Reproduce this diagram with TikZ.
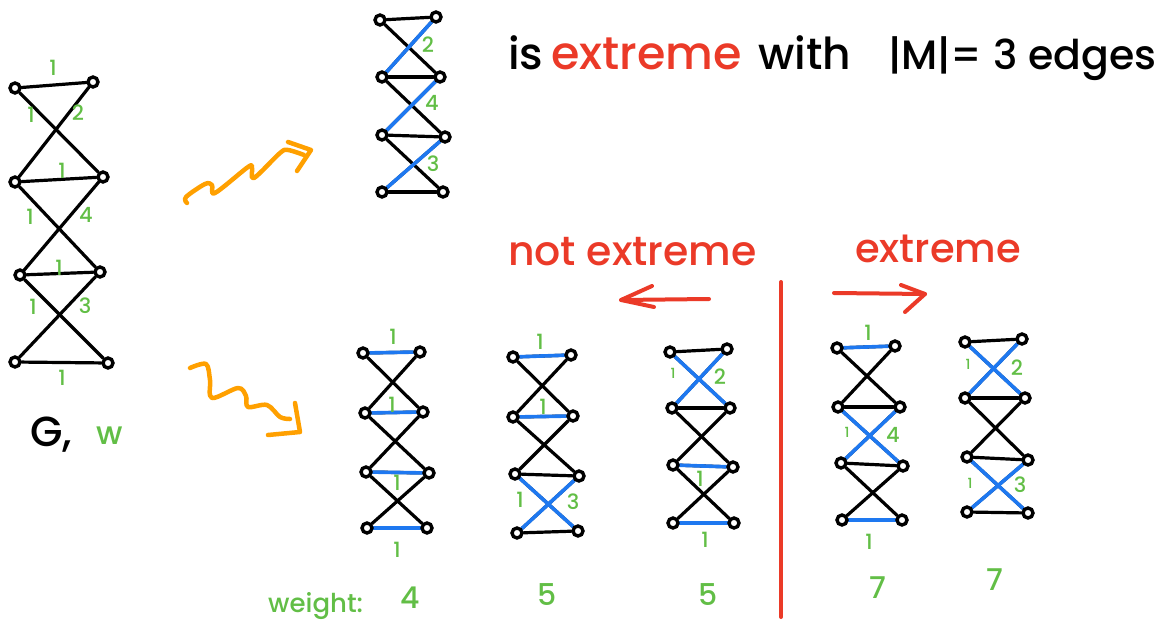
\documentclass[tikz,border=0pt]{standalone}
\usepackage{fontspec}
\setmainfont{Poppins}
\newfontfamily\medf{Poppins Medium}
\usetikzlibrary{arrows.meta,backgrounds}
\definecolor{hblue}{RGB}{30,120,240}
\definecolor{hgreen}{RGB}{98,190,70}
\definecolor{horange}{RGB}{255,160,0}
\definecolor{hred}{RGB}{235,58,40}
\tikzset{
 vtx/.style={circle,draw=black,fill=white,line width=3.4pt,inner sep=0pt,minimum size=10pt},
 edge/.style={line width=3.2pt,black,line cap=round},
 bedge/.style={line width=3.6pt,hblue,line cap=round},
 wlab/.style={text=hgreen,font=\medf\fontsize{21}{21}\selectfont,inner sep=0pt},
 slab/.style={text=hgreen,font=\medf\fontsize{14}{14}\selectfont,inner sep=0pt},
 squig/.style={horange,line width=4.5pt,line cap=round,line join=round},
 redarr/.style={hred,line width=4pt,line cap=round,line join=round},
 txt/.style={inner sep=0pt,anchor=base west},
}
\newcommand\mkgraph[9]{%
 \node[vtx] (#11l) at (#2) {};
 \node[vtx] (#11r) at (#3) {};
 \node[vtx] (#12l) at (#4) {};
 \node[vtx] (#12r) at (#5) {};
 \node[vtx] (#13l) at (#6) {};
 \node[vtx] (#13r) at (#7) {};
 \node[vtx] (#14l) at (#8) {};
 \node[vtx] (#14r) at (#9) {};
}
\newcommand\gedges[1]{%
 \foreach \i/\j in {1/2,2/3,3/4}{\draw[edge] (#1\i l)--(#1\j r); \draw[edge] (#1\i r)--(#1\j l);}
 \foreach \i in {1,2,3,4}{\draw[edge] (#1\i l)--(#1\i r);}
}
\begin{document}
\begin{tikzpicture}[x=1pt,y=-1pt]
\useasboundingbox (0,0) rectangle (1172,631);
% graphs
\mkgraph{G}{15,88}{93,82}{15,182}{103,177}{20,275}{100,272}{15,362}{108,363}
\mkgraph{T}{380,20}{436,17}{382,77}{440,77}{382,135}{445,137}{382,192}{443,192}
\mkgraph{A}{363,353}{420,352}{365,413}{423,412}{366,472}{429,473}{367,528}{427,528}
\mkgraph{B}{513,357}{571,355}{513,417}{573,416}{515,474}{579,476}{517,533}{578,531}
\mkgraph{C}{670,352}{727,349}{672,408}{730,408}{673,465}{733,467}{673,523}{734,523}
\mkgraph{D}{837,348}{895,346}{838,407}{900,407}{841,463}{903,466}{842,520}{902,520}
\mkgraph{E}{965,342}{1022,339}{965,398}{1025,398}{967,457}{1028,460}{967,512}{1028,513}
\begin{pgfonlayer}{background}
\gedges{G}\gedges{T}\gedges{A}\gedges{B}\gedges{C}\gedges{D}\gedges{E}
% blue matchings
\draw[bedge] (T2l)--(T1r); \draw[bedge] (T3l)--(T2r); \draw[bedge] (T4l)--(T3r);
\foreach \i in {1,2,3,4}{\draw[bedge] (A\i l)--(A\i r);}
\draw[bedge] (B1l)--(B1r); \draw[bedge] (B2l)--(B2r); \draw[bedge] (B3l)--(B4r); \draw[bedge] (B3r)--(B4l);
\draw[bedge] (C1l)--(C2r); \draw[bedge] (C1r)--(C2l); \draw[bedge] (C3l)--(C3r); \draw[bedge] (C4l)--(C4r);
\draw[bedge] (D1l)--(D1r); \draw[bedge] (D2l)--(D3r); \draw[bedge] (D2r)--(D3l); \draw[bedge] (D4l)--(D4r);
\draw[bedge] (E1l)--(E2r); \draw[bedge] (E1r)--(E2l); \draw[bedge] (E3l)--(E4r); \draw[bedge] (E3r)--(E4l);
\end{pgfonlayer}
% weights G
\node[wlab] (g1) at (53,68) {1};
\node[wlab] (g2) at (31,115) {1};
\node[wlab] (g3) at (78,113) {2};
\node[wlab] (g4) at (62,171) {1};
\node[wlab] (g5) at (30,217) {1};
\node[wlab] (g6) at (86,215) {4};
\node[wlab] (g7) at (59,268) {1};
\node[wlab] (g8) at (33,307) {1};
\node[wlab] (g9) at (85,306) {3};
\node[wlab] (g10) at (62,378) {1};
\node[txt,font=\medf\fontsize{42}{42}\selectfont] (Gn) at (30,446) {G,};
\node[txt,text=hgreen,font=\medf\fontsize{32}{32}\selectfont] (Gw) at (96,444) {w};
% weights T
\node[wlab] (t1) at (428,45) {2};
\node[wlab] (t2) at (432,103) {4};
\node[wlab] (t3) at (433,164) {3};
% weights A
\node[wlab] (a1) at (393,337) {1};
\node[wlab] (a2) at (392,405) {1};
\node[wlab] (a3) at (397,483) {1};
\node[wlab] (a4) at (397,550) {1};
% weights B
\node[wlab] (b1) at (540,342) {1};
\node[wlab] (b2) at (543,407) {1};
\node[wlab] (b3) at (520,500) {1};
\node[wlab] (b4) at (573,502) {3};
% weights C
\node[slab] (c1) at (673,373) {1};
\node[wlab] (c2) at (720,377) {2};
\node[wlab] (c3) at (700,479) {1};
\node[wlab] (c4) at (705,540) {1};
% weights D
\node[wlab] (d1) at (868,333) {1};
\node[slab] (d2) at (847,432) {1};
\node[wlab] (d3) at (893,435) {4};
\node[wlab] (d4) at (869,542) {1};
% weights E
\node[slab] (e1) at (968,364) {1};
\node[wlab] (e2) at (1017,368) {2};
\node[slab] (e3) at (970,483) {1};
\node[wlab] (e4) at (1020,485) {3};
% title
\node[txt,font=\medf\fontsize{44}{44}\selectfont] (tis) at (508,70) {is};
\node[txt,text=hred,font=\medf\fontsize{46}{46}\selectfont] (text) at (551,70) {extreme};
\node[txt,font=\medf\fontsize{44}{44}\selectfont] (twith) at (758,70) {with};
\node[txt,font=\medf\fontsize{41}{41}\selectfont] (tm) at (888,70) {|M|= 3 edges};
% extreme labels
\node[txt,text=hred,font=\medf\fontsize{41}{41}\selectfont] (notx) at (508,265) {not extreme};
\node[txt,text=hred,font=\medf\fontsize{40}{40}\selectfont] (isx) at (855,262) {extreme};
% red separator and arrows
\coordinate (rtop) at (781,282); \coordinate (rbot) at (781,617);
\draw[redarr] (rtop)--(rbot);
\coordinate (la1) at (709,299); \coordinate (la2) at (621,300);
\coordinate (lh1) at (652,286); \coordinate (lh2) at (654,307);
\draw[redarr] (la1)--(la2); \draw[redarr] (lh1)--(la2)--(lh2);
\coordinate (ra1) at (834,293); \coordinate (ra2) at (925,294);
\coordinate (rh1) at (901,285); \coordinate (rh2) at (905,312);
\draw[redarr] (ra1)--(ra2); \draw[redarr] (rh1)--(ra2)--(rh2);
% orange squiggles
\draw[squig] plot[smooth,tension=0.55] coordinates {(187,203)(186,197)(205,184)(212,185)(215,193)(248,167)(252,168)(254,178)(280,153)(288,150)(304,155)};
\coordinate (oh1) at (288,142); \coordinate (ot1) at (311,150); \coordinate (oh2) at (297,171);
\draw[squig] (oh1)--(ot1)--(oh2);
\draw[squig] plot[smooth,tension=0.55] coordinates {(190,368)(206,364)(210,380)(212,398)(238,388)(246,396)(248,407)(267,405)(280,417)(290,419)};
\coordinate (oh3) at (295,403); \coordinate (ot2) at (300,432); \coordinate (oh4) at (268,435);
\draw[squig] (oh3)--(ot2)--(oh4);
% weights row
\node[txt,text=hgreen,font=\medf\fontsize{26}{26}\selectfont] (wt) at (268,612) {weight:};
\node[inner sep=0pt,text=hgreen,font=\medf\fontsize{30}{30}\selectfont] (w1) at (410,598) {4};
\node[inner sep=0pt,text=hgreen,font=\medf\fontsize{30}{30}\selectfont] (w2) at (547,595) {5};
\node[inner sep=0pt,text=hgreen,font=\medf\fontsize{30}{30}\selectfont] (w3) at (708,595) {5};
\node[inner sep=0pt,text=hgreen,font=\medf\fontsize{30}{30}\selectfont] (w4) at (878,588) {7};
\node[inner sep=0pt,text=hgreen,font=\medf\fontsize{30}{30}\selectfont] (w5) at (995,580) {7};
\end{tikzpicture}
\end{document}
